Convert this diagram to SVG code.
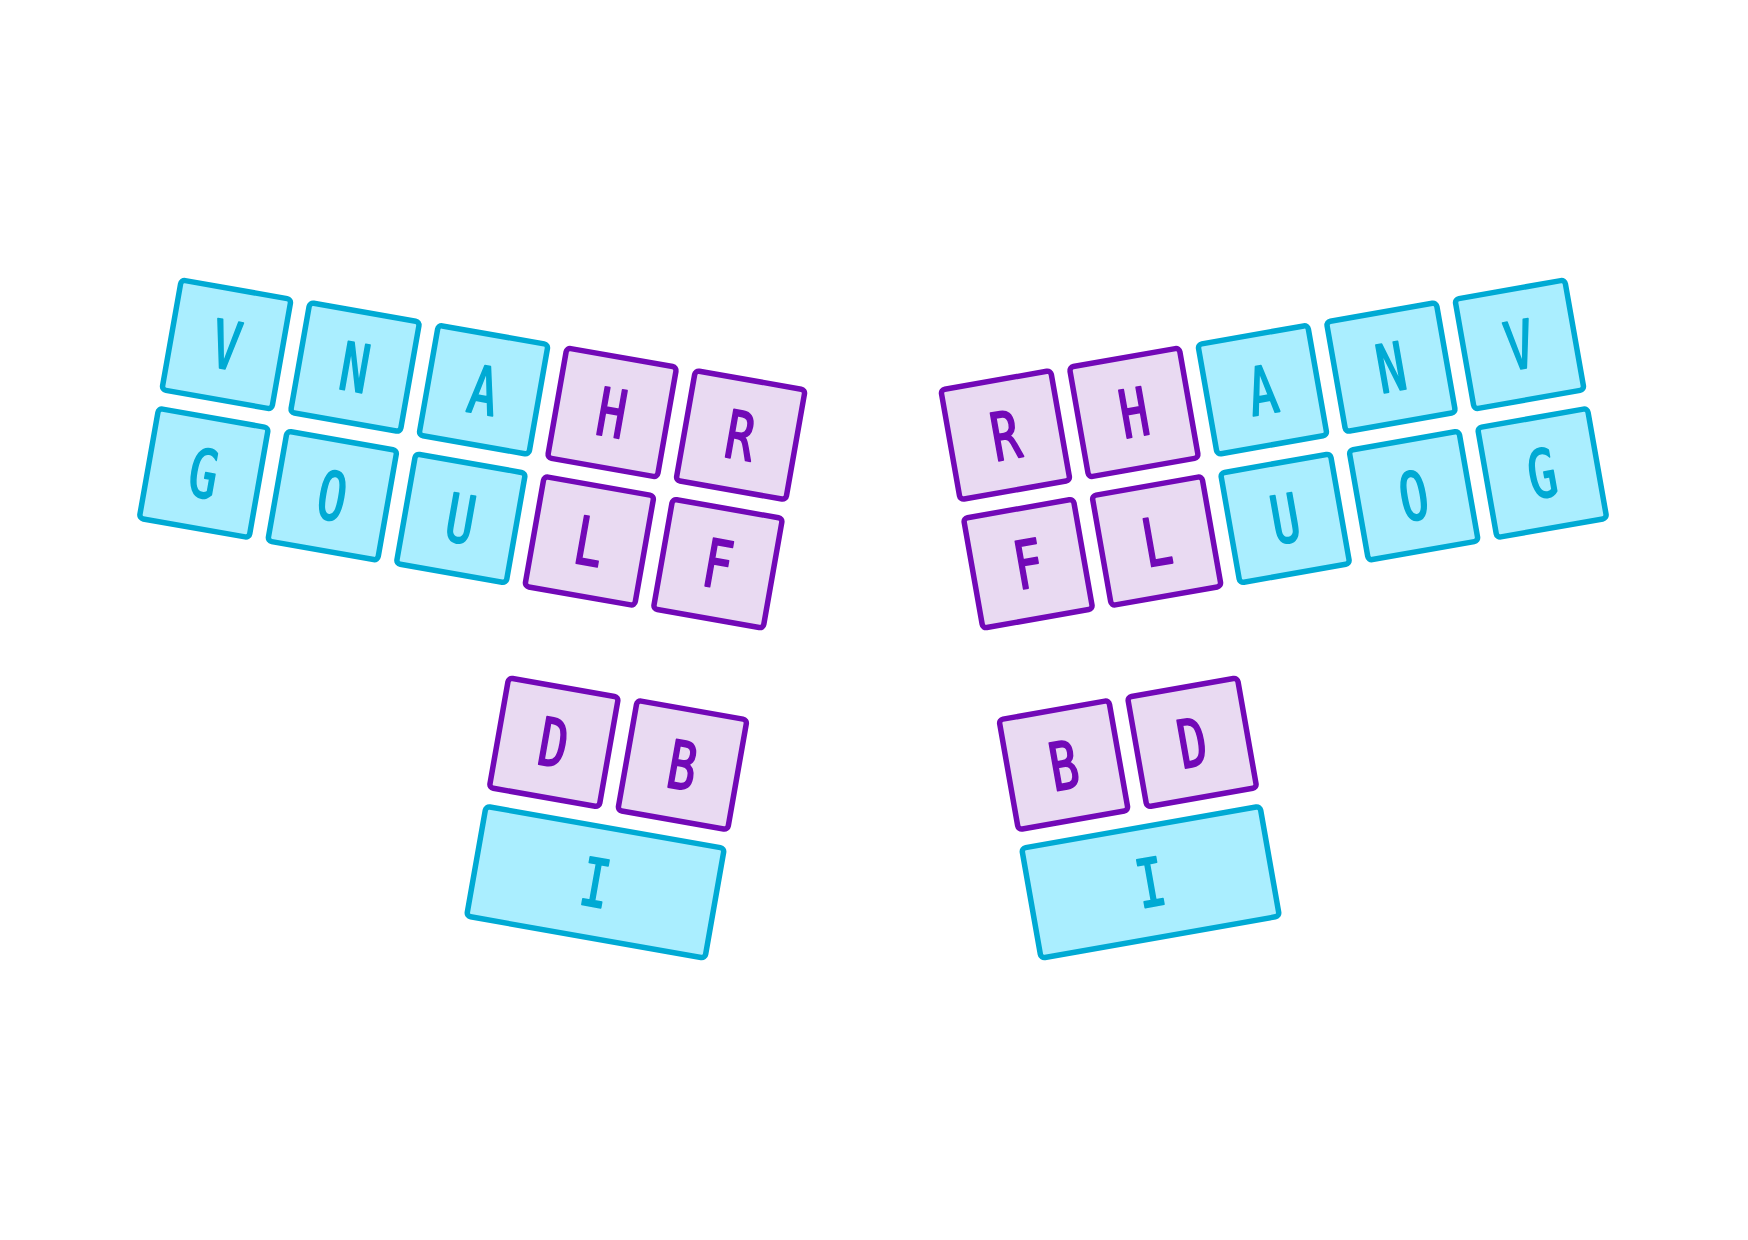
<svg xmlns="http://www.w3.org/2000/svg" width="1748" height="1240" viewBox="0 0 1748 1240">
<style>
.c rect{fill:#AAEEFF;stroke:#00AAD4;stroke-width:5.5}
.p rect{fill:#E9DAF2;stroke:#7209B7;stroke-width:5.5}
text{font-family:"DejaVu Sans Mono",monospace;font-weight:normal;font-size:66px;text-anchor:middle;stroke-width:2;stroke-linejoin:round}
.c text{fill:#00AAD4;stroke:#00AAD4}
.p text{fill:#7209B7;stroke:#7209B7}
</style>
<rect width="1748" height="1240" fill="#ffffff"/>
<g id="left" transform="translate(226.5,344.5) rotate(10)">
<g id="L-V" class="c" transform="translate(0,0)"><rect x="-55.75" y="-55.75" width="111.5" height="111.5" rx="4"/><text transform="scale(0.72,1)" y="24">V</text></g>
<g id="L-N" class="c" transform="translate(130.5,0)"><rect x="-55.75" y="-55.75" width="111.5" height="111.5" rx="4"/><text transform="scale(0.72,1)" y="24">N</text></g>
<g id="L-A" class="c" transform="translate(261,0)"><rect x="-55.75" y="-55.75" width="111.5" height="111.5" rx="4"/><text transform="scale(0.72,1)" y="24">A</text></g>
<g id="L-H" class="p" transform="translate(391.5,0)"><rect x="-55.75" y="-55.75" width="111.5" height="111.5" rx="4"/><text transform="scale(0.72,1)" y="24">H</text></g>
<g id="L-R" class="p" transform="translate(522,0)"><rect x="-55.75" y="-55.75" width="111.5" height="111.5" rx="4"/><text transform="scale(0.72,1)" y="24">R</text></g>
<g id="L-G" class="c" transform="translate(0,130.5)"><rect x="-55.75" y="-55.75" width="111.5" height="111.5" rx="4"/><text transform="scale(0.72,1)" y="24">G</text></g>
<g id="L-O" class="c" transform="translate(130.5,130.5)"><rect x="-55.75" y="-55.75" width="111.5" height="111.5" rx="4"/><text transform="scale(0.72,1)" y="24">O</text></g>
<g id="L-U" class="c" transform="translate(261,130.5)"><rect x="-55.75" y="-55.75" width="111.5" height="111.5" rx="4"/><text transform="scale(0.72,1)" y="24">U</text></g>
<g id="L-L" class="p" transform="translate(391.5,130.5)"><rect x="-55.75" y="-55.75" width="111.5" height="111.5" rx="4"/><text transform="scale(0.72,1)" y="24">L</text></g>
<g id="L-F" class="p" transform="translate(522,130.5)"><rect x="-55.75" y="-55.75" width="111.5" height="111.5" rx="4"/><text transform="scale(0.72,1)" y="24">F</text></g>
<g id="L-D" class="p" transform="translate(391.5,335)"><rect x="-55.75" y="-55.75" width="111.5" height="111.5" rx="4"/><text transform="scale(0.72,1)" y="24">D</text></g>
<g id="L-B" class="p" transform="translate(522,335)"><rect x="-55.75" y="-55.75" width="111.5" height="111.5" rx="4"/><text transform="scale(0.72,1)" y="24">B</text></g>
<g id="L-I" class="c" transform="translate(456.75,465.5)"><rect x="-121" y="-55.75" width="242" height="111.5" rx="4"/><text transform="scale(0.72,1)" y="24">I</text></g>
</g>
<g id="right" transform="translate(1519.5,344.5) rotate(-10)">
<g id="R-V" class="c" transform="translate(0,0)"><rect x="-55.75" y="-55.75" width="111.5" height="111.5" rx="4"/><text transform="scale(0.72,1)" y="24">V</text></g>
<g id="R-N" class="c" transform="translate(-130.5,0)"><rect x="-55.75" y="-55.75" width="111.5" height="111.5" rx="4"/><text transform="scale(0.72,1)" y="24">N</text></g>
<g id="R-A" class="c" transform="translate(-261,0)"><rect x="-55.75" y="-55.75" width="111.5" height="111.5" rx="4"/><text transform="scale(0.72,1)" y="24">A</text></g>
<g id="R-H" class="p" transform="translate(-391.5,0)"><rect x="-55.75" y="-55.75" width="111.5" height="111.5" rx="4"/><text transform="scale(0.72,1)" y="24">H</text></g>
<g id="R-R" class="p" transform="translate(-522,0)"><rect x="-55.75" y="-55.75" width="111.5" height="111.5" rx="4"/><text transform="scale(0.72,1)" y="24">R</text></g>
<g id="R-G" class="c" transform="translate(0,130.5)"><rect x="-55.75" y="-55.75" width="111.5" height="111.5" rx="4"/><text transform="scale(0.72,1)" y="24">G</text></g>
<g id="R-O" class="c" transform="translate(-130.5,130.5)"><rect x="-55.75" y="-55.75" width="111.5" height="111.5" rx="4"/><text transform="scale(0.72,1)" y="24">O</text></g>
<g id="R-U" class="c" transform="translate(-261,130.5)"><rect x="-55.75" y="-55.75" width="111.5" height="111.5" rx="4"/><text transform="scale(0.72,1)" y="24">U</text></g>
<g id="R-L" class="p" transform="translate(-391.5,130.5)"><rect x="-55.75" y="-55.75" width="111.5" height="111.5" rx="4"/><text transform="scale(0.72,1)" y="24">L</text></g>
<g id="R-F" class="p" transform="translate(-522,130.5)"><rect x="-55.75" y="-55.75" width="111.5" height="111.5" rx="4"/><text transform="scale(0.72,1)" y="24">F</text></g>
<g id="R-D" class="p" transform="translate(-391.5,335)"><rect x="-55.75" y="-55.75" width="111.5" height="111.5" rx="4"/><text transform="scale(0.72,1)" y="24">D</text></g>
<g id="R-B" class="p" transform="translate(-522,335)"><rect x="-55.75" y="-55.75" width="111.5" height="111.5" rx="4"/><text transform="scale(0.72,1)" y="24">B</text></g>
<g id="R-I" class="c" transform="translate(-456.75,465.5)"><rect x="-121" y="-55.75" width="242" height="111.5" rx="4"/><text transform="scale(0.72,1)" y="24">I</text></g>
</g>
<g id="connectors"/>
</svg>
